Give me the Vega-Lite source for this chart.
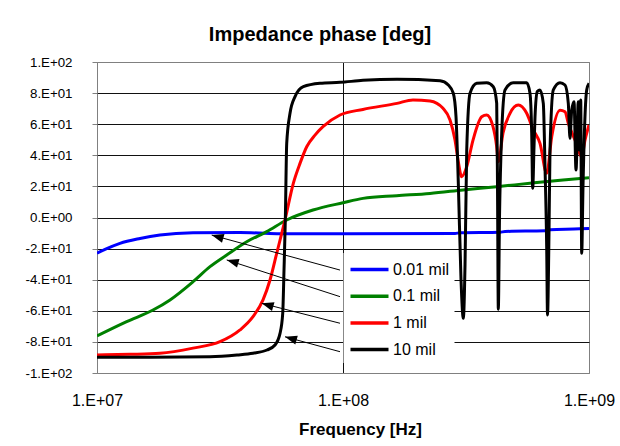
{
  "$schema": "https://vega.github.io/schema/vega-lite/v6.json",
  "width": 492,
  "height": 311,
  "autosize": {"type": "none"},
  "padding": {"left": 97, "top": 62, "right": 31, "bottom": 73},
  "background": "white",
  "title": {
    "text": "Impedance phase [deg]",
    "anchor": "middle",
    "frame": "group",
    "dx": -23,
    "offset": -6,
    "baseline": "alphabetic",
    "fontSize": 20,
    "fontWeight": "bold",
    "font": "Liberation Sans",
    "color": "black"
  },
  "config": {
    "font": "Liberation Sans",
    "view": {"stroke": "#808080", "strokeWidth": 1}
  },
  "datasets": {
    "phase": [
      {"series": "0.01 mil", "freq": 1.000e7, "phase": -23},
      {"series": "0.01 mil", "freq": 1.078e7, "phase": -20.5},
      {"series": "0.01 mil", "freq": 1.240e7, "phase": -16.6},
      {"series": "0.01 mil", "freq": 1.496e7, "phase": -13.5},
      {"series": "0.01 mil", "freq": 1.803e7, "phase": -11.3},
      {"series": "0.01 mil", "freq": 2.457e7, "phase": -9.8},
      {"series": "0.01 mil", "freq": 3.814e7, "phase": -9.6},
      {"series": "0.01 mil", "freq": 5.392e7, "phase": -10.4},
      {"series": "0.01 mil", "freq": 1.068e8, "phase": -10.5},
      {"series": "0.01 mil", "freq": 2.853e8, "phase": -10.3},
      {"series": "0.01 mil", "freq": 2.990e8, "phase": -9.8},
      {"series": "0.01 mil", "freq": 4.348e8, "phase": -9.5},
      {"series": "0.01 mil", "freq": 4.556e8, "phase": -9},
      {"series": "0.01 mil", "freq": 6.625e8, "phase": -8.5},
      {"series": "0.01 mil", "freq": 6.942e8, "phase": -7.8},
      {"series": "0.01 mil", "freq": 9.193e8, "phase": -7.3},
      {"series": "0.01 mil", "freq": 1.000e9, "phase": -7},

      {"series": "0.1 mil", "freq": 1.000e7, "phase": -76.2},
      {"series": "0.1 mil", "freq": 1.320e7, "phase": -67},
      {"series": "0.1 mil", "freq": 1.689e7, "phase": -59.5},
      {"series": "0.1 mil", "freq": 1.981e7, "phase": -53},
      {"series": "0.1 mil", "freq": 2.457e7, "phase": -41.3},
      {"series": "0.1 mil", "freq": 2.880e7, "phase": -31.6},
      {"series": "0.1 mil", "freq": 3.368e7, "phase": -24.1},
      {"series": "0.1 mil", "freq": 4.061e7, "phase": -15.6},
      {"series": "0.1 mil", "freq": 4.897e7, "phase": -9.1},
      {"series": "0.1 mil", "freq": 5.905e7, "phase": -1.6},
      {"series": "0.1 mil", "freq": 7.551e7, "phase": 4.8},
      {"series": "0.1 mil", "freq": 1.000e8, "phase": 9.5},
      {"series": "0.1 mil", "freq": 1.2055e8, "phase": 12.3},
      {"series": "0.1 mil", "freq": 1.653e8, "phase": 14},
      {"series": "0.1 mil", "freq": 2.258e8, "phase": 15.5},
      {"series": "0.1 mil", "freq": 3.075e8, "phase": 17.7},
      {"series": "0.1 mil", "freq": 4.215e8, "phase": 19.8},
      {"series": "0.1 mil", "freq": 5.756e8, "phase": 22},
      {"series": "0.1 mil", "freq": 7.840e8, "phase": 24.1},
      {"series": "0.1 mil", "freq": 1.000e9, "phase": 25.6},

      {"series": "1 mil", "freq": 1.000e7, "phase": -88.4},
      {"series": "1 mil", "freq": 1.362e7, "phase": -88},
      {"series": "1 mil", "freq": 1.803e7, "phase": -87.3},
      {"series": "1 mil", "freq": 2.457e7, "phase": -84},
      {"series": "1 mil", "freq": 3.162e7, "phase": -79.9},
      {"series": "1 mil", "freq": 3.814e7, "phase": -72.3},
      {"series": "1 mil", "freq": 4.307e7, "phase": -63.8},
      {"series": "1 mil", "freq": 4.730e7, "phase": -53},
      {"series": "1 mil", "freq": 5.050e7, "phase": -40.2},
      {"series": "1 mil", "freq": 5.377e7, "phase": -23},
      {"series": "1 mil", "freq": 5.635e7, "phase": -10.2},
      {"series": "1 mil", "freq": 5.811e7, "phase": -1.6},
      {"series": "1 mil", "freq": 6.281e7, "phase": 22},
      {"series": "1 mil", "freq": 6.687e7, "phase": 34.8},
      {"series": "1 mil", "freq": 7.120e7, "phase": 45.5},
      {"series": "1 mil", "freq": 7.694e7, "phase": 53},
      {"series": "1 mil", "freq": 8.291e7, "phase": 58.4},
      {"series": "1 mil", "freq": 9.723e7, "phase": 65.9},
      {"series": "1 mil", "freq": 1.2055e8, "phase": 69.5},
      {"series": "1 mil", "freq": 1.658e8, "phase": 73.4},
      {"series": "1 mil", "freq": 1.925e8, "phase": 75.6},
      {"series": "1 mil", "freq": 2.258e8, "phase": 74.9},
      {"series": "1 mil", "freq": 2.550e8, "phase": 70.2},
      {"series": "1 mil", "freq": 2.723e8, "phase": 62.7},
      {"series": "1 mil", "freq": 2.853e8, "phase": 49.8},
      {"series": "1 mil", "freq": 2.935e8, "phase": 37},
      {"series": "1 mil", "freq": 3.038e8, "phase": 26.2},
      {"series": "1 mil", "freq": 3.184e8, "phase": 32.7},
      {"series": "1 mil", "freq": 3.377e8, "phase": 49.8},
      {"series": "1 mil", "freq": 3.664e8, "phase": 64.8},
      {"series": "1 mil", "freq": 3.839e8, "phase": 65.9},
      {"series": "1 mil", "freq": 4.072e8, "phase": 58.4},
      {"series": "1 mil", "freq": 4.215e8, "phase": 45.5},
      {"series": "1 mil", "freq": 4.279e8, "phase": 35.9},
      {"series": "1 mil", "freq": 4.472e8, "phase": 54.3},
      {"series": "1 mil", "freq": 4.774e8, "phase": 67},
      {"series": "1 mil", "freq": 5.160e8, "phase": 72.3},
      {"series": "1 mil", "freq": 5.581e8, "phase": 67},
      {"series": "1 mil", "freq": 5.937e8, "phase": 56.3},
      {"series": "1 mil", "freq": 6.321e8, "phase": 47.7},
      {"series": "1 mil", "freq": 6.731e8, "phase": 28.4},
      {"series": "1 mil", "freq": 7.054e8, "phase": 52},
      {"series": "1 mil", "freq": 7.623e8, "phase": 69},
      {"series": "1 mil", "freq": 7.988e8, "phase": 68},
      {"series": "1 mil", "freq": 8.239e8, "phase": 60.6},
      {"series": "1 mil", "freq": 8.772e8, "phase": 49.8},
      {"series": "1 mil", "freq": 9.340e8, "phase": 39},
      {"series": "1 mil", "freq": 9.633e8, "phase": 49.8},
      {"series": "1 mil", "freq": 1.000e9, "phase": 59.5},

      {"series": "10 mil", "freq": 1.000e7, "phase": -89.9},
      {"series": "10 mil", "freq": 1.642e7, "phase": -89.8},
      {"series": "10 mil", "freq": 2.880e7, "phase": -89.5},
      {"series": "10 mil", "freq": 3.709e7, "phase": -88.4},
      {"series": "10 mil", "freq": 4.307e7, "phase": -87.3},
      {"series": "10 mil", "freq": 4.910e7, "phase": -85.2},
      {"series": "10 mil", "freq": 5.292e7, "phase": -82},
      {"series": "10 mil", "freq": 5.546e7, "phase": -74.5},
      {"series": "10 mil", "freq": 5.688e7, "phase": -61.6},
      {"series": "10 mil", "freq": 5.757e7, "phase": -33.8},
      {"series": "10 mil", "freq": 5.828e7, "phase": -1.6},
      {"series": "10 mil", "freq": 5.905e7, "phase": 47.7},
      {"series": "10 mil", "freq": 6.090e7, "phase": 67},
      {"series": "10 mil", "freq": 6.382e7, "phase": 77.7},
      {"series": "10 mil", "freq": 6.897e7, "phase": 84.1},
      {"series": "10 mil", "freq": 8.062e7, "phase": 86.3},
      {"series": "10 mil", "freq": 9.723e7, "phase": 86.9},
      {"series": "10 mil", "freq": 1.2055e8, "phase": 88.2},
      {"series": "10 mil", "freq": 1.658e8, "phase": 88.9},
      {"series": "10 mil", "freq": 2.480e8, "phase": 88},
      {"series": "10 mil", "freq": 2.680e8, "phase": 85.2},
      {"series": "10 mil", "freq": 2.808e8, "phase": 79.9},
      {"series": "10 mil", "freq": 2.880e8, "phase": 64.8},
      {"series": "10 mil", "freq": 2.943e8, "phase": 22},
      {"series": "10 mil", "freq": 3.018e8, "phase": -40},
      {"series": "10 mil", "freq": 3.084e8, "phase": -64.8},
      {"series": "10 mil", "freq": 3.134e8, "phase": -30},
      {"series": "10 mil", "freq": 3.184e8, "phase": 43.4},
      {"series": "10 mil", "freq": 3.284e8, "phase": 79.9},
      {"series": "10 mil", "freq": 3.496e8, "phase": 86.3},
      {"series": "10 mil", "freq": 3.839e8, "phase": 86.7},
      {"series": "10 mil", "freq": 4.083e8, "phase": 84.1},
      {"series": "10 mil", "freq": 4.215e8, "phase": 73.4},
      {"series": "10 mil", "freq": 4.247e8, "phase": 20},
      {"series": "10 mil", "freq": 4.279e8, "phase": -59},
      {"series": "10 mil", "freq": 4.327e8, "phase": 0},
      {"series": "10 mil", "freq": 4.417e8, "phase": 54.2},
      {"series": "10 mil", "freq": 4.556e8, "phase": 82},
      {"series": "10 mil", "freq": 4.924e8, "phase": 86.7},
      {"series": "10 mil", "freq": 5.581e8, "phase": 86.7},
      {"series": "10 mil", "freq": 5.756e8, "phase": 79.9},
      {"series": "10 mil", "freq": 5.849e8, "phase": 54.2},
      {"series": "10 mil", "freq": 5.904e8, "phase": 18.8},
      {"series": "10 mil", "freq": 5.976e8, "phase": 45},
      {"series": "10 mil", "freq": 6.033e8, "phase": 64.8},
      {"series": "10 mil", "freq": 6.164e8, "phase": 81},
      {"series": "10 mil", "freq": 6.321e8, "phase": 82},
      {"series": "10 mil", "freq": 6.520e8, "phase": 73.4},
      {"series": "10 mil", "freq": 6.625e8, "phase": 32.7},
      {"series": "10 mil", "freq": 6.731e8, "phase": -20},
      {"series": "10 mil", "freq": 6.782e8, "phase": -62.7},
      {"series": "10 mil", "freq": 6.877e8, "phase": -10},
      {"series": "10 mil", "freq": 6.942e8, "phase": 43.4},
      {"series": "10 mil", "freq": 7.160e8, "phase": 82},
      {"series": "10 mil", "freq": 7.623e8, "phase": 86.7},
      {"series": "10 mil", "freq": 7.988e8, "phase": 85.2},
      {"series": "10 mil", "freq": 8.239e8, "phase": 73.4},
      {"series": "10 mil", "freq": 8.371e8, "phase": 50.9},
      {"series": "10 mil", "freq": 8.505e8, "phase": 69},
      {"series": "10 mil", "freq": 8.691e8, "phase": 74.5},
      {"series": "10 mil", "freq": 8.855e8, "phase": 30.5},
      {"series": "10 mil", "freq": 9.047e8, "phase": 74.5},
      {"series": "10 mil", "freq": 9.133e8, "phase": 43.4},
      {"series": "10 mil", "freq": 9.253e8, "phase": 75.6},
      {"series": "10 mil", "freq": 9.340e8, "phase": -23},
      {"series": "10 mil", "freq": 9.454e8, "phase": 20},
      {"series": "10 mil", "freq": 9.787e8, "phase": 82},
      {"series": "10 mil", "freq": 1.000e9, "phase": 86.3}
    ],
    "pointers": [
      {"series": "0.01 mil", "fromFreq": 9.723e7, "fromPhase": -33.8, "toFreq": 2.926e7, "toPhase": -11.3},
      {"series": "0.1 mil", "fromFreq": 9.723e7, "fromPhase": -50.9, "toFreq": 3.368e7, "toPhase": -27.3},
      {"series": "1 mil", "fromFreq": 9.723e7, "fromPhase": -68.0, "toFreq": 4.672e7, "toPhase": -55.2},
      {"series": "10 mil", "fromFreq": 9.723e7, "fromPhase": -86.3, "toFreq": 5.811e7, "toPhase": -76.7}
    ]
  },
  "layer": [
    {
      "data": {"name": "phase"},
      "mark": {"type": "line", "strokeWidth": 3, "interpolate": "monotone", "clip": true},
      "encoding": {
        "x": {
          "field": "freq",
          "type": "quantitative",
          "scale": {"type": "log", "domain": [1e7, 1e9], "nice": false},
          "axis": {
            "title": "Frequency [Hz]",
            "values": [1e7, 1e8, 1e9],
            "tickCount": 3,
            "labelExpr": "'1.E+' + format(round(log(datum.value) / LN10), '02d')",
            "labelFontSize": 16,
            "labelColor": "black",
            "labelPadding": 19,
            "labelFlush": false,
            "labelOverlap": false,
            "domain": false,
            "ticks": false,
            "grid": true,
            "gridColor": {"condition": {"test": "datum.value == 1e7 || datum.value == 1e9", "value": "#808080"}, "value": "#111111"},
            "gridWidth": 1,
            "titleFontSize": 17,
            "titleFontWeight": "bold",
            "titleColor": "black",
            "titleX": 263,
            "titleY": 61,
            "titleBaseline": "alphabetic"
          }
        },
        "y": {
          "field": "phase",
          "type": "quantitative",
          "scale": {"domain": [-100, 100], "nice": false},
          "axis": {
            "title": null,
            "values": [-100, -80, -60, -40, -20, 0, 20, 40, 60, 80, 100],
            "tickCount": 11,
            "labelExpr": "datum.value == 0 ? '0.E+00' : (datum.value < 0 ? '-' : '') + round(abs(datum.value) / pow(10, floor(log(abs(datum.value)) / LN10 + 1e-9))) + '.E+' + format(floor(log(abs(datum.value)) / LN10 + 1e-9), '02d')",
            "labelFontSize": 13.3,
            "labelColor": "black",
            "labelPadding": 20,
            "labelOverlap": false,
            "domain": false,
            "ticks": true,
            "tickSize": 5,
            "tickColor": "#808080",
            "grid": true,
            "gridColor": {"condition": {"test": "abs(datum.value) == 100", "value": "#808080"}, "value": "#111111"},
            "gridWidth": 1
          }
        },
        "color": {
          "field": "series",
          "type": "nominal",
          "scale": {
            "domain": ["0.01 mil", "0.1 mil", "1 mil", "10 mil"],
            "range": ["#0000ff", "#008000", "#ff0000", "#000000"]
          },
          "legend": {
            "orient": "none",
            "legendX": 246.5,
            "legendY": 191,
            "title": null,
            "fillColor": "white",
            "padding": 5,
            "symbolType": "M-1,0L3,0",
            "symbolSize": 361,
            "symbolStrokeWidth": 3.5,
            "labelFontSize": 16,
            "labelColor": "black",
            "labelOffset": 21.5,
            "rowPadding": 6.7
          }
        }
      }
    },
    {
      "data": {"name": "pointers"},
      "mark": {"type": "rule", "color": "black", "strokeWidth": 1},
      "encoding": {
        "x": {"field": "fromFreq", "type": "quantitative"},
        "x2": {"field": "toFreq"},
        "y": {"field": "fromPhase", "type": "quantitative"},
        "y2": {"field": "toPhase"}
      }
    },
    {
      "data": {"name": "pointers"},
      "mark": {
        "type": "point",
        "shape": "M0,0L-0.75,2L0.75,2Z",
        "filled": true,
        "color": "black",
        "opacity": 1,
        "size": 144,
        "angle": 286
      },
      "encoding": {
        "x": {"field": "toFreq", "type": "quantitative"},
        "y": {"field": "toPhase", "type": "quantitative"}
      }
    }
  ]
}
